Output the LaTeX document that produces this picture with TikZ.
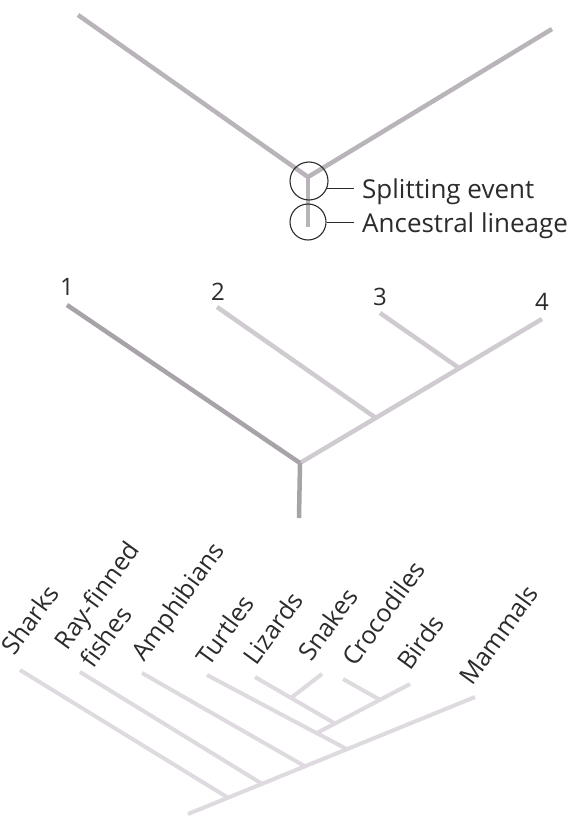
\documentclass[tikz,border=0pt]{standalone}
\usepackage{fontspec}
\setmainfont{Open Sans}
\definecolor{inkgrey}{HTML}{2B2A2C}
\definecolor{topgrey}{HTML}{B9B3BA}
\definecolor{darkgrey}{HTML}{A8A2A9}
\definecolor{midgrey}{HTML}{D0CBD1}
\definecolor{palegrey}{HTML}{DEDADF}
\tikzset{
  lineage/.style={line width=4.5pt, draw=topgrey},
  ring/.style={circle, draw=inkgrey, line width=1.1pt, inner sep=0pt},
  leader/.style={draw=inkgrey, line width=1pt},
  caption/.style={anchor=base west, inner sep=0pt, inner xsep=8pt, text=inkgrey,
    font=\fontsize{26}{30}\selectfont},
  tipnum/.style={anchor=base, inner sep=0pt, text=inkgrey, font=\fontsize{24}{30}\selectfont},
  taxon/.style={rotate=54, anchor=base west, inner sep=0pt, align=left, text=inkgrey,
    font=\fontsize{25}{32}\selectfont}
}
\begin{document}
\begin{tikzpicture}[x=1pt,y=-1pt]
  \useasboundingbox (0,0) rectangle (570,816);

  \coordinate (a) at (78,15);
  \coordinate (b) at (552,29);
  \coordinate (split) at (308,177);
  \coordinate (anc) at (308,227);
  \draw[lineage] (a) -- (split);
  \draw[lineage] (b) -- (split);
  \draw[lineage] (split) -- (anc);
  \node[ring, minimum size=38pt] (splitring) at (309,181) {};
  \node[ring, minimum size=36pt] (ancring) at (308,222) {};
  \node[caption] (splitlbl) at (354,198) {Splitting event};
  \node[caption] (anclbl) at (354,232) {Ancestral lineage};
  \draw[leader] (splitring.-21) -- (splitring.-21 -| splitlbl.west);
  \draw[leader] (ancring.east) -- (ancring.east -| anclbl.west);

  \coordinate (t1) at (67,305);
  \coordinate (t2) at (217,307);
  \coordinate (t3) at (380,313);
  \coordinate (t4) at (542,319);
  \coordinate (r) at (300,463);
  \coordinate (r0) at (299,518);
  \coordinate (j2) at (376,418);
  \coordinate (j3) at (459,368);
  \node[tipnum] (n1) at (67,295) {1};
  \node[tipnum] (n2) at (218,300) {2};
  \node[tipnum] (n3) at (380,305) {3};
  \node[tipnum] (n4) at (542,310) {4};
  \begin{scope}[lineage]
    \draw[midgrey] (r) -- (t4);
    \draw[midgrey] (t2) -- (j2);
    \draw[midgrey] (t3) -- (j3);
    \draw[darkgrey] (t1) -- (r);
    \draw[darkgrey] (r) -- (r0);
  \end{scope}

  \coordinate (sharks) at (20,670);
  \coordinate (rayfin) at (80,672);
  \coordinate (amph) at (142,673);
  \coordinate (turt) at (207,675);
  \coordinate (liz) at (255,677);
  \coordinate (snake) at (322,674);
  \coordinate (croc) at (343,679);
  \coordinate (bird) at (410,684);
  \coordinate (mamm) at (475,697);
  \coordinate (root) at (188,814);
  \coordinate (jsh) at (228,797.7);
  \coordinate (jray) at (262,783.8);
  \coordinate (jamp) at (305,766.3);
  \coordinate (jrep) at (347,749.2);
  \coordinate (jarch) at (317,733);
  \coordinate (jliz) at (335,723.5);
  \coordinate (jcroc) at (380,699.8);
  \coordinate (jsnake) at (291,697.9);
  \node[taxon] (lsharks) at (14,657) {Sharks};
  \node[taxon] (lrayfin) at (93,670) {Ray-finned\\fishes};
  \node[taxon] (lamph) at (144,663) {Amphibians};
  \node[taxon] (lturt) at (209,668) {Turtles};
  \node[taxon] (lliz) at (256,667) {Lizards};
  \node[taxon] (lsnake) at (311,663) {Snakes};
  \node[taxon] (lcroc) at (355,668) {Crocodiles};
  \node[taxon] (lbird) at (410,672) {Birds};
  \node[taxon] (lmamm) at (472,687) {Mammals};
  \begin{scope}[lineage, palegrey, line width=4pt]
    \draw (root) -- (mamm);
    \draw (sharks) -- (jsh);
    \draw (rayfin) -- (jray);
    \draw (amph) -- (jamp);
    \draw (turt) -- (jrep);
    \draw (jarch) -- (bird);
    \draw (liz) -- (jliz);
    \draw (snake) -- (jsnake);
    \draw (croc) -- (jcroc);
  \end{scope}
\end{tikzpicture}
\end{document}
